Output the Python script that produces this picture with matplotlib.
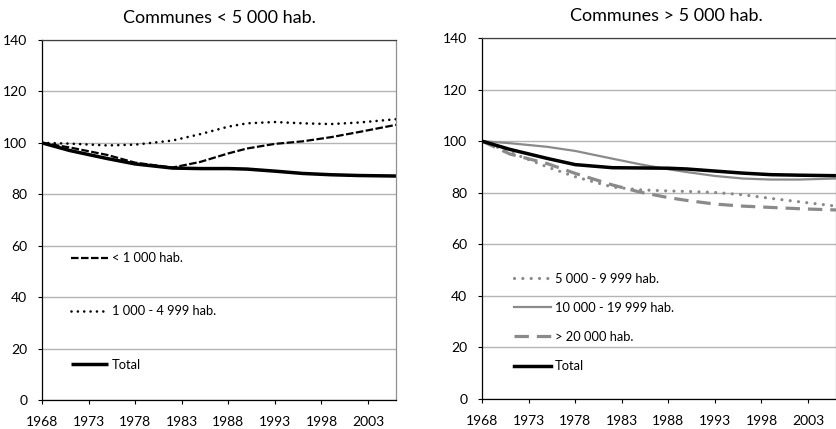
import matplotlib
matplotlib.use("Agg")
import matplotlib.pyplot as plt

plt.rcParams['font.family'] = ['Lato', 'DejaVu Sans']

years = [1968, 1971, 1975, 1978, 1982, 1985, 1988, 1990, 1993, 1996, 1999, 2002, 2006]

# Left panel: communes < 5 000 hab.
small_lt1000 = [100, 98.2, 95.3, 92.3, 90.4, 92.6, 95.9, 97.8, 99.6, 100.6, 102.2, 104.2, 107.0]
small_1000_4999 = [100, 99.7, 99.0, 99.3, 100.9, 103.4, 106.3, 107.6, 108.1, 107.6, 107.3, 107.9, 109.2]
small_total = [100, 97.0, 93.9, 91.8, 90.2, 90.0, 90.0, 89.8, 89.0, 88.1, 87.6, 87.3, 87.1]

# Right panel: communes > 5 000 hab.
big_5000_9999 = [100, 95.7, 90.0, 86.2, 82.2, 81.1, 80.7, 80.5, 80.1, 79.2, 77.8, 76.5, 74.8]
big_10000_19999 = [100, 99.2, 97.8, 96.2, 93.2, 91.0, 89.1, 88.0, 86.5, 85.5, 85.1, 85.1, 85.5]
big_gt20000 = [100, 95.0, 91.3, 87.5, 83.0, 80.2, 78.1, 77.0, 75.6, 74.8, 74.3, 73.8, 73.3]
big_total = [100, 96.8, 93.3, 90.9, 89.7, 89.6, 89.5, 89.2, 88.4, 87.6, 87.0, 86.8, 86.6]

xticks = [1968, 1973, 1978, 1983, 1988, 1993, 1998, 2003]
yticks = [0, 20, 40, 60, 80, 100, 120, 140]

titles = ["Communes < 5 000 hab.", "Communes > 5 000 hab."]
labels_left = ["< 1 000 hab.", "1 000 - 4 999 hab.", "Total"]
labels_right = ["5 000 - 9 999 hab.", "10 000 - 19 999 hab.", "> 20 000 hab.", "Total"]

W, H = 837, 429
fig = plt.figure(figsize=(W / 100, H / 100), dpi=100)
ax1 = fig.add_axes([42 / W, 29 / H, 354 / W, 360 / H])
ax2 = fig.add_axes([482 / W, 30 / H, 354 / W, 361 / H])

GRAY = '#8a8a8a'

def style(ax):
    ax.set_xlim(1968, 2006)
    ax.set_ylim(0, 140)
    ax.set_xticks(xticks)
    ax.set_yticks(yticks)
    ax.yaxis.grid(True, color='#b4b4b4', lw=1.0)
    ax.set_axisbelow(True)
    ax.tick_params(axis='both', direction='out', length=3, width=0.8,
                   labelsize=10, colors='black')
    ax.tick_params(axis='x', pad=8.5)
    ax.tick_params(axis='y', pad=7.5)
    ax.spines['left'].set_color('black')
    ax.spines['bottom'].set_color('black')
    ax.spines['top'].set_color('#404040')
    ax.spines['right'].set_color('#909090')
    for s in ax.spines.values():
        s.set_linewidth(0.9)

style(ax1)
style(ax2)

l1, = ax1.plot(years, small_lt1000, color='black', lw=1.6, linestyle=(0, (3.4, 1.1)))
l2, = ax1.plot(years, small_1000_4999, color='black', lw=1.9, linestyle=(0, (0.01, 2.4)),
               dash_capstyle='round')
l3, = ax1.plot(years, small_total, color='black', lw=2.5, solid_capstyle='butt')

r1, = ax2.plot(years, big_5000_9999, color=GRAY, lw=2.3, linestyle=(0, (0.01, 2.6)),
               dash_capstyle='round')
r2, = ax2.plot(years, big_10000_19999, color=GRAY, lw=1.6)
r3, = ax2.plot(years, big_gt20000, color=GRAY, lw=2.3, linestyle=(0, (4.5, 2.5)))
r4, = ax2.plot(years, big_total, color='black', lw=2.5)

ax1.set_title(titles[0], fontsize=13, pad=12)
ax2.text(0.522, 1 + 12 / 72 * 100 / 361, titles[1], transform=ax2.transAxes,
         fontsize=13, ha='center', va='baseline')

leg1 = ax1.legend([l1, l2, l3], labels_left, loc='upper left',
                  bbox_to_anchor=(0.082, 0.411), frameon=False, fontsize=9.3,
                  handlelength=2.85, handletextpad=0.3, labelspacing=3.2,
                  borderaxespad=0, borderpad=0)
leg2 = ax2.legend([r1, r2, r3, r4], labels_right, loc='upper left',
                  bbox_to_anchor=(0.090, 0.350), frameon=False, fontsize=9.3,
                  handlelength=2.85, handletextpad=0.3, labelspacing=1.33,
                  borderaxespad=0, borderpad=0)

fig.savefig("out.png", dpi=100)
